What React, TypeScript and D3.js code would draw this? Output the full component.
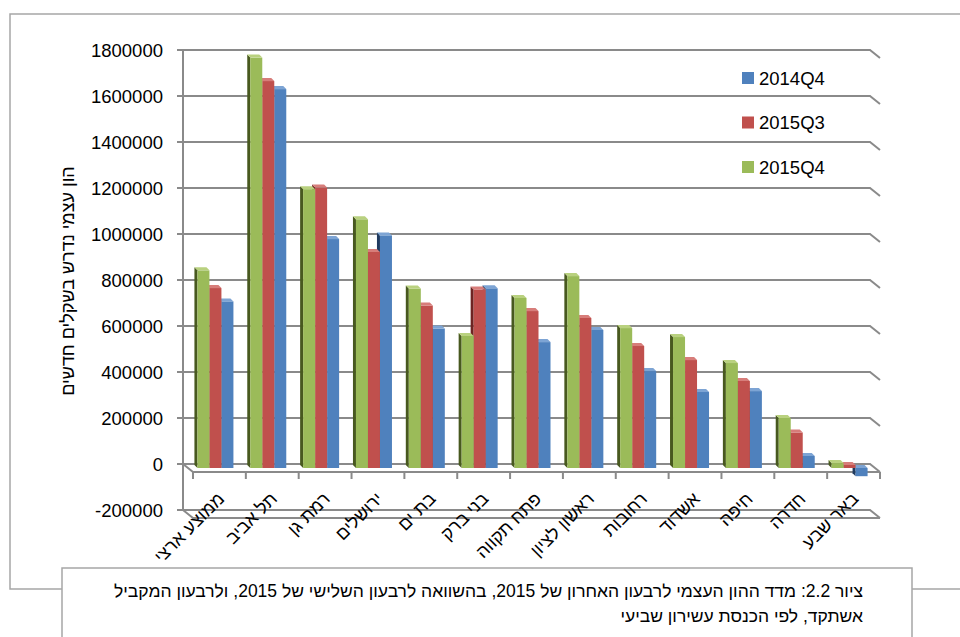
import React from "react";
import * as d3 from "d3";

const categories = [
  "ממוצע ארצי",
  "תל אביב",
  "רמת גן",
  "ירושלים",
  "בת ים",
  "בני ברק",
  "פתח תקווה",
  "ראשון לציון",
  "רחובות",
  "אשדוד",
  "חיפה",
  "חדרה",
  "באר שבע",
];

const seriesNames = ["2015Q4", "2015Q3", "2014Q4"];
const values2015Q4 = [855000, 1780000, 1208000, 1077000, 776000, 570000, 735000, 830000, 604000, 565000, 452000, 213000, 17000];
const values2015Q3 = [778000, 1678000, 1215000, 935000, 702000, 772000, 678000, 648000, 526000, 465000, 374000, 150000, 9000];
const values2014Q4 = [720000, 1643000, 991000, 1007000, 602000, 777000, 543000, 596000, 417000, 326000, 330000, 48000, -40000];
const yTicks = [-200000, 0, 200000, 400000, 600000, 800000, 1000000, 1200000, 1400000, 1600000, 1800000];
const legendOrder = ["2014Q4", "2015Q3", "2015Q4"];

const yTitle = "הון עצמי נדרש בשקלים חדשים";
const captionLines = [
  "ציור 2.2: מדד ההון העצמי לרבעון האחרון של 2015, בהשוואה לרבעון השלישי של 2015, ולרבעון המקביל",
  "אשתקד, לפי הכנסת עשירון שביעי",
];

const colors: Record<string, { front: string; side: string; top: string }> = {
  "2015Q4": { front: "#9BBB59", side: "#48591f", top: "#b9d17f" },
  "2015Q3": { front: "#C0504D", side: "#6e2422", top: "#d77d7a" },
  "2014Q4": { front: "#4F81BD", side: "#1f3a5f", top: "#7da4d4" },
};

const seriesValues: Record<string, number[]> = {
  "2015Q4": values2015Q4,
  "2015Q3": values2015Q3,
  "2014Q4": values2014Q4,
};

const FONT = "'Liberation Sans', Arial, sans-serif";

export default function App() {
  const W = 960;
  const H = 637;
  const backLeft = 183;
  const backRight = 870;
  const depthX = 10;
  const depthY = 8;
  const y = d3.scaleLinear().domain([-200000, 1800000]).range([510, 50]);
  const x = d3.scaleBand<string>().domain(categories).range([backLeft + depthX, backRight + depthX]).padding(0);
  const bw = 12;
  const sdx = -3;
  const sdy = -3;
  const barShiftX = -4;
  const barShiftY = 3;

  const gridColor = "#8a8a8a";

  const bars: React.ReactNode[] = [];
  categories.forEach((c, ci) => {
    const center = (x(c) as number) + x.bandwidth() / 2 + barShiftX;
    for (let si = seriesNames.length - 1; si >= 0; si--) {
      const s = seriesNames[si];
      const v = seriesValues[s][ci];
      const x0 = center - (bw * 3) / 2 + si * bw;
      const yz = y(0) + barShiftY + 1;
      const yv = y(v) + barShiftY;
      const top = Math.min(yz, yv);
      const bot = Math.max(yz, yv);
      const col = colors[s];
      bars.push(
        <g key={`${c}-${s}`}>
          <polygon
            points={`${x0},${top} ${x0 + sdx},${top + sdy} ${x0 + sdx},${bot + sdy} ${x0},${bot}`}
            fill={col.side}
          />
          <rect x={x0} y={top} width={bw} height={Math.max(0.5, bot - top)} fill={col.front} />
          <polygon
            points={`${x0},${top} ${x0 + sdx},${top + sdy} ${x0 + bw + sdx},${top + sdy} ${x0 + bw},${top}`}
            fill={col.top}
          />
        </g>
      );
    }
  });

  const boundaries = d3.range(categories.length + 1).map((i) => backLeft + depthX + i * x.bandwidth());

  return (
    <svg width={W} height={H} style={{ position: "absolute", left: 0, top: 0, background: "#fff" }} fontFamily={FONT}>
      <rect x={0} y={0} width={W} height={H} fill="#fff" />
      <path d={`M960,14 L10,14 L10,589 L62,589`} fill="none" stroke="#a6a6a6" strokeWidth={1.5} />
      <path d={`M912,589 L960,589`} fill="none" stroke="#a6a6a6" strokeWidth={1.5} />

      {yTicks.map((t) => (
        <g key={t}>
          <path
            d={`M${backLeft - 6},${y(t)} L${backRight},${y(t)} L${backRight + depthX},${y(t) + depthY}`}
            fill="none"
            stroke={gridColor}
            strokeWidth={2}
          />
          <text x={163} y={y(t)} dy="0.36em" textAnchor="end" fontSize={18.5} fill="#000">
            {t}
          </text>
        </g>
      ))}
      <line x1={backLeft} y1={y(1800000)} x2={backLeft} y2={y(-200000)} stroke={gridColor} strokeWidth={2} />
      <path
        d={`M${backLeft},${y(-200000)} L${backLeft + depthX},${y(-200000) + depthY} L${backRight + depthX},${y(-200000) + depthY}`}
        fill="none"
        stroke={gridColor}
        strokeWidth={2}
      />
      <path
        d={`M${backLeft},${y(0)} L${backLeft + depthX},${y(0) + depthY} L${backRight + depthX},${y(0) + depthY}`}
        fill="none"
        stroke={gridColor}
        strokeWidth={2}
      />
      {boundaries.map((bx, i) => (
        <line key={i} x1={bx} x2={bx} y1={y(0) + depthY} y2={y(0) + depthY + 7} stroke={gridColor} strokeWidth={2} />
      ))}

      {bars}

      {categories.map((c) => {
        const cx = (x(c) as number) + x.bandwidth() / 2 + 6;
        const cy = 500;
        return (
          <text key={c} transform={`translate(${cx},${cy}) rotate(-45)`} textAnchor="end" fontSize={18} fill="#000">
            {c}
          </text>
        );
      })}

      <text transform={`translate(74,281) rotate(-90)`} textAnchor="middle" fontSize={18} fill="#000">
        {yTitle}
      </text>

      {legendOrder.map((s, i) => (
        <g key={s} transform={`translate(742,${78 + i * 44.5})`}>
          <rect x={0} y={-6} width={12} height={12} fill={colors[s].front} />
          <text x={17} y={0} dy="0.36em" fontSize={18.5} fill="#000">
            {s}
          </text>
        </g>
      ))}

      <rect x={62} y={568} width={850} height={100} fill="#fff" stroke="#a6a6a6" strokeWidth={1.5} />
      {captionLines.map((l, i) => (
        <text key={i} x={863} y={597 + i * 25} direction="rtl" textAnchor="start" fontSize={17.5} fill="#000">
          {l}
        </text>
      ))}
    </svg>
  );
}
